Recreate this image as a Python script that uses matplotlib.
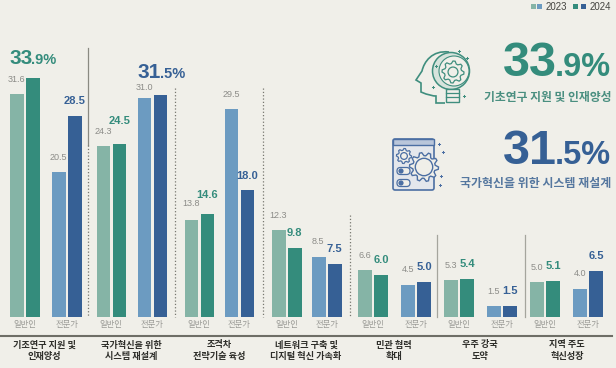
import numpy as np
import matplotlib
matplotlib.use('Agg')
import matplotlib.pyplot as plt
from matplotlib.patches import Rectangle, FancyBboxPatch, Circle, PathPatch, Polygon
from matplotlib.path import Path

categories = [['기초연구 지원 및', '인재양성'], ['국가혁신을 위한', '시스템 재설계'], ['초격차', '전략기술 육성'],
              ['네트워크 구축 및', '디지털 혁신 가속화'], ['민관 협력', '확대'], ['우주 강국', '도약'], ['지역 주도', '혁신성장']]
public_2023 = [31.6, 24.3, 13.8, 12.3, 6.6, 5.3, 5.0]
public_2024 = [33.9, 24.5, 14.6, 9.8, 6.0, 5.4, 5.1]
expert_2023 = [20.5, 31.0, 29.5, 8.5, 4.5, 1.5, 4.0]
expert_2024 = [28.5, 31.5, 18.0, 7.5, 5.0, 1.5, 6.5]
group_labels = ['일반인', '전문가']

BG = '#F0EFE9'
C_PUB23, C_PUB24, C_EXP23, C_EXP24 = '#85B4A6', '#348C7C', '#6C9BC1', '#366095'
NUM = ['Liberation Sans', 'DejaVu Sans']
KR = ['Noto Sans CJK KR', 'DejaVu Sans']

W, H = 616, 368
fig = plt.figure(figsize=(W/100, H/100), dpi=100, facecolor=BG)

BASE = 317
ax = fig.add_axes([0, (H-BASE)/H, 1, BASE/H])
ax.set_xlim(0, W)
ax.set_ylim(0, BASE/7.05)
ax.axis('off')
ov = fig.add_axes([0, 0, 1, 1], zorder=3)
ov.set_xlim(0, W)
ov.set_ylim(H, 0)
ov.axis('off')
ov.patch.set_alpha(0)

left_pub = [10, 96.5, 184.5, 272, 358, 444, 530]
left_exp = [52, 137.5, 224.5, 312, 401, 487, 573]
BW, GAP = 13.5, 16

# label anchors: (x, y) of older value, (x, y) of newer value; None = shown as headline
label_pos = {
    (0, 0): ((16, 79), None), (0, 1): ((58, 157.5), (74.5, 101.5)),
    (1, 0): ((103, 131), (119.5, 121.5)), (1, 1): ((144, 88), None),
    (2, 0): ((191, 204), (207.5, 195)), (2, 1): ((231, 94.5), (247.5, 176)),
    (3, 0): ((278, 215), (294, 233)), (3, 1): ((318, 241), (334.5, 249.5)),
    (4, 0): ((365, 255), (381, 260)), (4, 1): ((408, 270), (424, 267)),
    (5, 0): ((451, 265), (467, 264)), (5, 1): ((494, 291), (510, 291)),
    (6, 0): ((537, 267), (553, 266)), (6, 1): ((580, 273), (596, 256)),
}
series = [(left_pub, public_2023, public_2024, C_PUB23, C_PUB24),
          (left_exp, expert_2023, expert_2024, C_EXP23, C_EXP24)]
for g in range(7):
    for kind, (xs, a, b, ca, cb) in enumerate(series):
        x0 = xs[g]
        ax.bar(x0, a[g], BW, align='edge', color=ca, lw=0)
        ax.bar(x0+GAP, b[g], BW, align='edge', color=cb, lw=0)
        pa, pb = label_pos[(g, kind)]
        ov.text(*pa, f'{a[g]:.1f}', color='#8C8C88', fontsize=6.5, family=NUM, ha='center', va='center')
        if pb is not None:
            ov.text(*pb, f'{b[g]:.1f}', color=cb, fontsize=8, family=NUM, weight='bold', ha='center', va='center')
        ov.text(x0+GAP-1.2, 325, group_labels[kind], color='#9A9A96', fontsize=6, family=KR, ha='center', va='center')

# separators
for x, y0, y1, st, col in [(88, 48, 145, '-', '#8A8A82'), (88, 145, 317, ':', '#77776F'), (175, 88, 317, ':', '#77776F'),
                           (263, 88, 317, ':', '#77776F'), (350, 215, 317, ':', '#77776F'),
                           (437, 235, 317, '-', '#A5A59D'), (525, 235, 317, '-', '#A5A59D')]:
    ov.plot([x, x], [y0, y1], color=col, lw=0.9, ls=st)
ov.plot([1, 612], [336, 336], color='#6E6E66', lw=1.5)

# category labels
centers = [44, 131, 219, 306, 394, 480, 567]
for c, lab in zip(centers, categories):
    ov.text(c, 345, lab[0], color='#2E2E2A', fontsize=6.6, family=KR, weight='bold', ha='center', va='center')
    ov.text(c, 356.5, lab[1], color='#2E2E2A', fontsize=6.6, family=KR, weight='bold', ha='center', va='center')

# mixed size percent
def big(xs, xl, y, a, b, col, s1, s2):
    ov.text(xs, y, a, color=col, fontsize=s1, family=NUM, weight='bold', ha='left', va='baseline')
    ov.text(xl, y, b, color=col, fontsize=s2, family=NUM, weight='bold', ha='left', va='baseline')

big(9, 31, 64.5, '33', '.9%', C_PUB24, 15, 10.5)
big(138, 160, 77.5, '31', '.5%', C_EXP24, 15, 10.5)
big(503, 555, 76, '33', '.9%', C_PUB24, 35, 23.5)
big(503, 555, 164, '31', '.5%', C_EXP24, 35, 23.5)
ov.text(611, 97, '기초연구 지원 및 인재양성', color='#4A8F80', fontsize=8.5, family=KR, weight='bold', ha='right', va='center')
ov.text(611, 184, '국가혁신을 위한 시스템 재설계', color='#55779F', fontsize=8.6, family=KR, weight='bold', ha='right', va='center')

# legend
for x, c in [(530.5, C_PUB23), (537, C_EXP23), (573, C_PUB24), (581, C_EXP24)]:
    ov.add_patch(Rectangle((x, 4), 5, 5, color=c, lw=0))
ov.text(546, 7, '2023', color='#444440', fontsize=7, family=NUM, ha='left', va='center')
ov.text(590, 7, '2024', color='#444440', fontsize=7, family=NUM, ha='left', va='center')

def gear(cx, cy, r, teeth, col, lw, fc='none', hub=0.45):
    ang = np.linspace(0, 2*np.pi, teeth*4, endpoint=False)
    rad = np.tile([r, r, r*0.78, r*0.78], teeth)
    pts = np.c_[cx+rad*np.cos(ang), cy+rad*np.sin(ang)]
    ov.add_patch(Polygon(pts, closed=True, fc=fc, ec=col, lw=lw))
    ov.add_patch(Circle((cx, cy), r*hub, fc='none', ec=col, lw=lw))

# icon 1: head + bulb
g1 = '#3F8E7E'
head = Path([(449, 52), (432, 50), (424, 62), (422, 71), (416, 80), (421, 83), (421, 92), (428, 95), (433, 96), (436, 96), (436, 103), (445, 103)],
            [1, 4, 4, 4, 2, 2, 2, 4, 4, 2, 2, 2])
ov.add_patch(PathPatch(head, fc='none', ec=g1, lw=1.2))
ov.add_patch(Circle((451, 71), 18.5, fc='#D6E3DC', ec=g1, lw=1.1))
ov.add_patch(Circle((454, 71), 15, fc=BG, ec=g1, lw=0.8))
gear(453, 72, 11, 8, g1, 0.9)
ov.add_patch(Rectangle((446, 89), 13, 13, fc=BG, ec=g1, lw=1))
for yy in [93, 97]:
    ov.plot([446, 459], [yy, yy], color=g1, lw=0.9)
for x, y in [(459, 51), (467, 58), (433, 87), (464, 96), (436, 66)]:
    ov.plot(x, y, marker='P', ms=2.2, color=g1, mew=0)

# icon 2: window + gears
b1 = '#4C6FA3'
ov.add_patch(FancyBboxPatch((393, 139), 41, 51, boxstyle='round,pad=0,rounding_size=2', fc='#E4E7EC', ec=b1, lw=1.2))
ov.add_patch(Rectangle((393, 139), 41, 6, fc='#B9C6DA', ec=b1, lw=1))
gear(404, 156, 7.5, 8, b1, 0.9, fc=BG)
gear(424, 167, 14.5, 10, b1, 1.0, fc=BG, hub=0.6)
for yy in [171, 183]:
    ov.add_patch(FancyBboxPatch((397, yy-3.5), 13, 7, boxstyle='round,pad=0,rounding_size=3.4', fc=BG, ec=b1, lw=0.9))
    ov.add_patch(Circle((401, yy), 2.6, fc=b1, lw=0))
for x, y in [(439, 144), (443, 152), (441, 176), (440, 185)]:
    ov.plot(x, y, marker='P', ms=2.2, color=b1, mew=0)

fig.savefig('out.png', dpi=100, facecolor=BG)
